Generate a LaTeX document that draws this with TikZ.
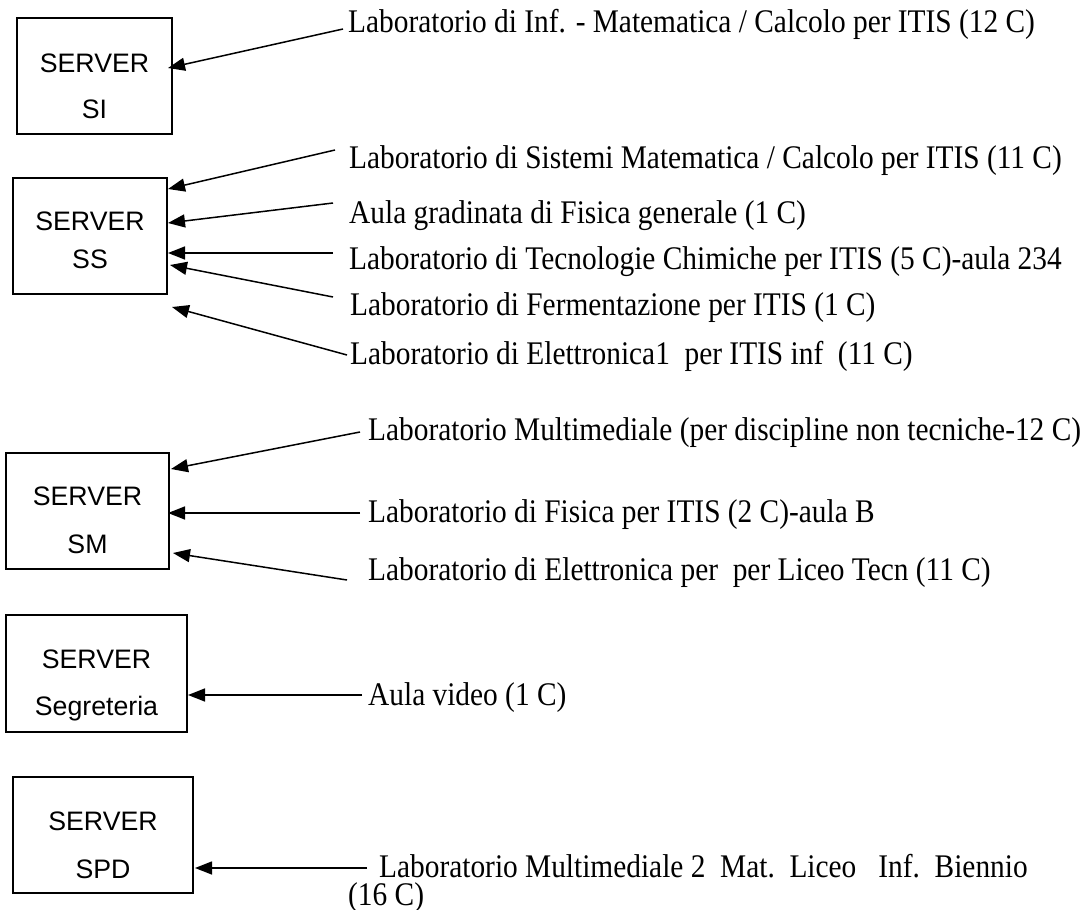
\documentclass[tikz,border=0pt]{standalone}
\usepackage{fontspec}
\setmainfont{Liberation Serif}
\newfontfamily\arialfont{Liberation Sans}
\newfontfamily\labfont[FakeStretch=0.89]{Liberation Serif}
\usetikzlibrary{arrows.meta}
\begin{document}
\begin{tikzpicture}[x=1pt,y=-1pt,
  srvbox/.style={draw,line width=1.4pt,inner sep=0pt,outer sep=0pt},
  srvtext/.style={anchor=base,inner sep=0pt,font=\arialfont\fontsize{26.7}{30}\selectfont},
  lab/.style={anchor=base west,inner sep=0pt,font=\labfont\fontsize{33}{28}\selectfont},
  arr/.style={line width=1.5pt,-{Triangle[length=17pt,width=13pt]}}]
\useasboundingbox (0,0) rectangle (1085,910);

% server boxes
\node[srvbox,minimum width=155pt,minimum height=116pt] (bsi)  at (94.5,76) {};
\node[srvbox,minimum width=154pt,minimum height=116pt] (bss)  at (90,236) {};
\node[srvbox,minimum width=163pt,minimum height=116pt] (bsm)  at (87.5,511) {};
\node[srvbox,minimum width=181pt,minimum height=117pt] (bseg) at (96.5,673.5) {};
\node[srvbox,minimum width=180pt,minimum height=116pt] (bspd) at (103,835) {};

% box texts
\node[srvtext] (tsi1) at (94.5,72) {SERVER};
\node[srvtext] (tsi2) at (94.5,118) {SI};
\node[srvtext] (tss1) at (90,230) {SERVER};
\node[srvtext] (tss2) at (90,268) {SS};
\node[srvtext] (tsm1) at (87.5,505) {SERVER};
\node[srvtext] (tsm2) at (87.5,553) {SM};
\node[srvtext] (tseg1) at (96.5,668) {SERVER};
\node[srvtext] (tseg2) at (96.5,715) {Segreteria};
\node[srvtext] (tspd1) at (103,830) {SERVER};
\node[srvtext] (tspd2) at (103,878) {SPD};

% labels
\node[lab] (l1) at (348,32) {Laboratorio di Inf. - Matematica / Calcolo per ITIS (12 C)};
\node[lab] (l2) at (349,168) {Laboratorio di Sistemi Matematica / Calcolo per ITIS (11 C)};
\node[lab] (l3) at (349,223) {Aula gradinata di Fisica generale (1 C)};
\node[lab] (l4) at (349,269) {Laboratorio di Tecnologie Chimiche per ITIS (5 C)-aula 234};
\node[lab] (l5) at (350,315) {Laboratorio di Fermentazione per ITIS (1 C)};
\node[lab] (l6) at (350,364) {Laboratorio di Elettronica1\ \ per ITIS inf\ \ (11 C)};
\node[lab] (l7) at (368,440) {Laboratorio Multimediale (per discipline non tecniche-12 C)};
\node[lab] (l8) at (368,522) {Laboratorio di Fisica per ITIS (2 C)-aula B};
\node[lab] (l9) at (368,580) {Laboratorio di Elettronica per\ \ per Liceo Tecn (11 C)};
\node[lab] (l10) at (368,705) {Aula video (1 C)};
\node[lab] (l11) at (348,877) {\vtop{\baselineskip=28pt\lineskiplimit=-100pt
  \hbox{\hskip31pt Laboratorio Multimediale 2\ \ Mat.\ \ Liceo\ \ \ Inf.\ \ Biennio}\hbox{(16 C)}}};

% connector end points
\coordinate (s1) at (343,29);   \coordinate (e1) at (168,68);
\coordinate (s2) at (335,150);  \coordinate (e2) at (168,189);
\coordinate (s3) at (333,203);  \coordinate (e3) at (168,223);
\coordinate (s4) at (333,253);  \coordinate (e4) at (168,253);
\coordinate (s5) at (333,297);  \coordinate (e5) at (170,265);
\coordinate (s6) at (347,355);  \coordinate (e6) at (172,307);
\coordinate (s7) at (360,432);  \coordinate (e7) at (171,469);
\coordinate (s8) at (360,513);  \coordinate (e8) at (168,513);
\coordinate (s9) at (347,580);  \coordinate (e9) at (173,553);
\coordinate (s10) at (362,695); \coordinate (e10) at (188,695);
\coordinate (s11) at (367,868); \coordinate (e11) at (195,868);

\foreach \i in {1,...,11} \draw[arr] (s\i) -- (e\i);
\end{tikzpicture}
\end{document}
